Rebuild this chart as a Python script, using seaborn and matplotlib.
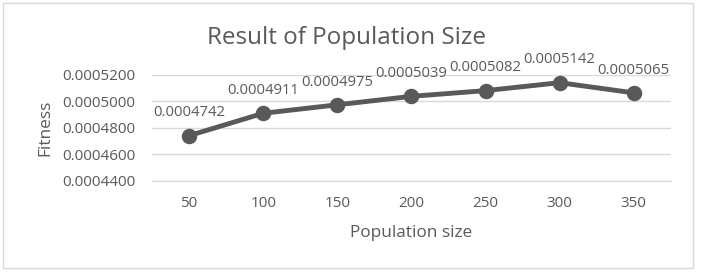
import numpy as np
import pandas as pd
import matplotlib
matplotlib.use("Agg")
import matplotlib.pyplot as plt
import seaborn as sns
from matplotlib.patches import Rectangle

# -----------------------------
# Data
# -----------------------------
pop_sizes = ["50", "100", "150", "200", "250", "300", "350"]
fitness = [0.0004742, 0.0004911, 0.0004975, 0.0005039, 0.0005082, 0.0005142, 0.0005065]
y_ticks = [0.00044, 0.00046, 0.00048, 0.00050, 0.00052]

df = pd.DataFrame({"pop": pop_sizes, "fitness": fitness})

sns.set_style("white")
plt.rcParams["font.family"] = ["Open Sans", "DejaVu Sans"]
txt = "#595959"

fig = plt.figure(figsize=(7.01, 2.72), dpi=100)
ax = fig.add_axes([0.2168, 0.3346, 0.957 - 0.2168, 0.7243 - 0.3346])

sns.pointplot(data=df, x="pop", y="fitness", order=pop_sizes, color="#595959",
              markers="o", markersize=8.5, linewidth=3.5, ax=ax)

# data labels above points
for i, v in enumerate(fitness):
    ax.annotate(f"{v:.7f}", (i, v), xytext=(0, 11), textcoords="offset points",
                ha="center", va="bottom", fontsize=10.7, color=txt)

ax.set_ylim(0.00044, 0.00052)
ax.set_xlim(-0.5, 6.5)
ax.set_yticks(y_ticks)
ax.set_yticklabels([f"{t:.7f}" for t in y_ticks])
ax.yaxis.grid(True, color="#d9d9d9", linewidth=1)
ax.set_axisbelow(True)

ax.set_xticks(np.arange(-0.5, 7, 1), minor=True)
ax.tick_params(axis="x", which="major", length=0, pad=11, labelsize=11, labelcolor=txt)
ax.tick_params(axis="x", which="minor", length=5, color="#d9d9d9", width=1)
ax.tick_params(axis="y", length=0, pad=12, labelsize=11, labelcolor=txt)

for s in ["left", "right", "top"]:
    ax.spines[s].set_visible(False)
ax.spines["bottom"].set_color("#d9d9d9")

ax.set_xlabel("Population size", fontsize=12.4, color=txt, labelpad=10)
ax.set_ylabel("Fitness", fontsize=12.4, color=txt, labelpad=6)
fig.text(0.495, 0.862, "Result of Population Size", ha="center", va="center",
         fontsize=17.5, color=txt)

fig.patches.append(Rectangle((0.004, 0.015), 0.984, 0.975, transform=fig.transFigure,
                             fill=False, edgecolor="#d9d9d9", linewidth=1))

fig.savefig("out.png", dpi=100)
